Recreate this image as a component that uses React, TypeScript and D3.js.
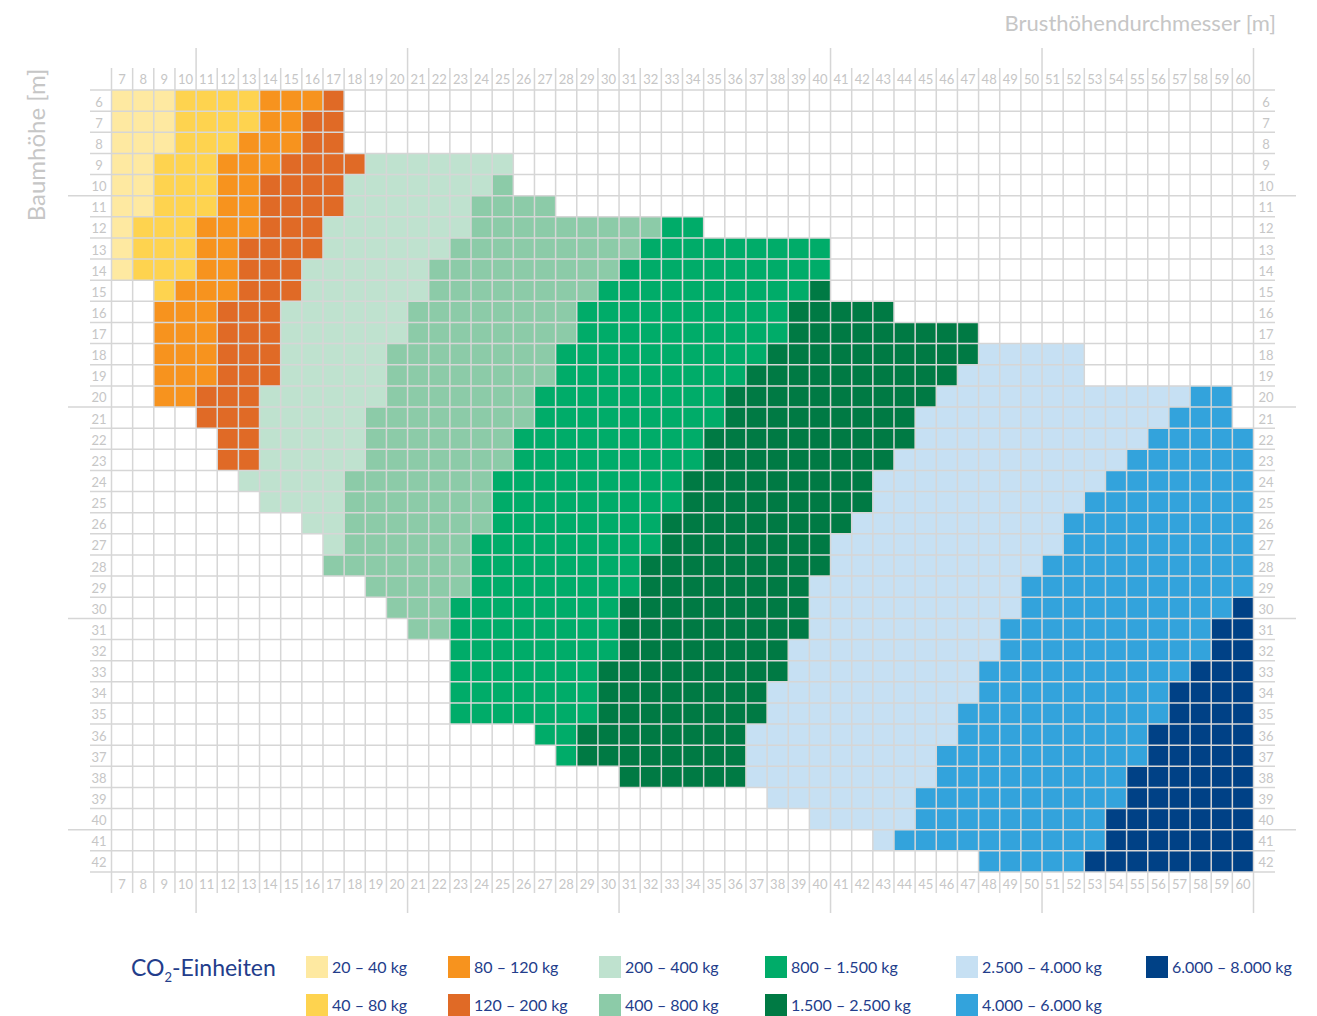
import React from "react";
import * as d3 from "d3";

// ---- data ----
const colNumbers = d3.range(7, 61); // Brusthöhendurchmesser labels
const rowNumbers = d3.range(6, 43); // Baumhöhe labels

const classLabels = [
  "20 – 40 kg", "40 – 80 kg", "80 – 120 kg", "120 – 200 kg", "200 – 400 kg", "400 – 800 kg",
  "800 – 1.500 kg", "1.500 – 2.500 kg", "2.500 – 4.000 kg", "4.000 – 6.000 kg", "6.000 – 8.000 kg",
];
const classColors = [
  "#fee9a1", "#fed34f", "#f7931e", "#e06a26", "#bfe2cf", "#8ccba8",
  "#00ac69", "#007a44", "#c6e0f3", "#33a3dc", "#004186",
];

// [row, fromCol, toCol] per CO2 class
const seg20_40 = [[6,7,9],[7,7,9],[8,7,9],[9,7,8],[10,7,8],[11,7,8],[12,7,7],[13,7,7],[14,7,7]];
const seg40_80 = [[6,10,13],[7,10,13],[8,10,12],[9,9,11],[10,9,11],[11,9,11],[12,8,10],[13,8,10],[14,8,10],[15,9,9]];
const seg80_120 = [[6,14,16],[7,14,15],[8,13,15],[9,12,14],[10,12,13],[11,12,13],[12,11,13],[13,11,12],[14,11,12],[15,10,12],[16,9,11],[17,9,11],[18,9,11],[19,9,11],[20,9,10]];
const seg120_200 = [[6,17,17],[7,16,17],[8,16,17],[9,15,18],[10,14,17],[11,14,17],[12,14,16],[13,13,16],[14,13,15],[15,13,15],[16,12,14],[17,12,14],[18,12,14],[19,12,14],[20,11,13],[21,11,13],[22,12,13],[23,12,13]];
const seg200_400 = [[9,19,25],[10,18,24],[11,18,23],[12,17,23],[13,17,22],[14,16,21],[15,16,21],[16,15,20],[17,15,20],[18,15,19],[19,15,19],[20,14,19],[21,14,18],[22,14,18],[23,14,18],[24,13,17],[25,14,17],[26,16,17],[27,17,17]];
const seg400_800 = [[10,25,25],[11,24,27],[12,24,32],[13,23,31],[14,22,30],[15,22,29],[16,21,28],[17,21,28],[18,20,27],[19,20,27],[20,20,26],[21,19,26],[22,19,25],[23,19,25],[24,18,24],[25,18,24],[26,18,24],[27,18,23],[28,17,23],[29,19,23],[30,20,22],[31,21,22]];
const seg800_1500 = [[12,33,34],[13,32,40],[14,31,40],[15,30,39],[16,29,38],[17,29,38],[18,28,37],[19,28,36],[20,27,35],[21,27,35],[22,26,34],[23,26,34],[24,25,33],[25,25,33],[26,25,32],[27,24,32],[28,24,31],[29,24,31],[30,23,30],[31,23,30],[32,23,30],[33,23,29],[34,23,29],[35,23,29],[36,27,28],[37,28,28]];
const seg1500_2500 = [[15,40,40],[16,39,43],[17,39,47],[18,38,47],[19,37,46],[20,36,45],[21,36,44],[22,35,44],[23,35,43],[24,34,42],[25,34,42],[26,33,41],[27,33,40],[28,32,40],[29,32,39],[30,31,39],[31,31,39],[32,31,38],[33,30,38],[34,30,37],[35,30,37],[36,29,36],[37,29,36],[38,31,36]];
const seg2500_4000 = [[18,48,52],[19,47,52],[20,46,57],[21,45,56],[22,45,55],[23,44,54],[24,43,53],[25,43,52],[26,42,51],[27,41,51],[28,41,50],[29,40,49],[30,40,49],[31,40,48],[32,39,48],[33,39,47],[34,38,47],[35,38,46],[36,37,46],[37,37,45],[38,37,45],[39,38,44],[40,40,44],[41,43,43]];
const seg4000_6000 = [[20,58,59],[21,57,59],[22,56,60],[23,55,60],[24,54,60],[25,53,60],[26,52,60],[27,52,60],[28,51,60],[29,50,60],[30,50,59],[31,49,58],[32,49,58],[33,48,57],[34,48,56],[35,47,56],[36,47,55],[37,46,55],[38,46,54],[39,45,54],[40,45,53],[41,44,53],[42,48,52]];
const seg6000_8000 = [[30,60,60],[31,59,60],[32,59,60],[33,58,60],[34,57,60],[35,57,60],[36,56,60],[37,56,60],[38,55,60],[39,55,60],[40,54,60],[41,54,60],[42,53,60]];

const classSegments = [seg20_40, seg40_80, seg80_120, seg120_200, seg200_400, seg400_800,
  seg800_1500, seg1500_2500, seg2500_4000, seg4000_6000, seg6000_8000];

// ---- layout ----
const W = 1317, H = 1016;
const X0 = 111.5, X1 = 1253.5, Y0 = 90, Y1 = 872;
const gridColor = "#d6d6d6";
const labelColor = "#c6c6c6";
const navy = "#233d8b";
const font = "Lato, 'Open Sans', 'Noto Sans', sans-serif";
const legendColX = [306, 448, 599, 765, 956, 1146];
const legendRowY = [956, 994];

export default function App() {
  const x = d3.scaleLinear().domain([7, 61]).range([X0, X1]);
  const y = d3.scaleLinear().domain([6, 43]).range([Y0, Y1]);
  const cw = x(8) - x(7);
  const ch = y(7) - y(6);

  const cells: any[] = [];
  classSegments.forEach((segs, ci) => {
    segs.forEach(([r, a, b]) => {
      d3.range(a, b + 1).forEach((c) => {
        cells.push(
          <rect key={`${ci}-${r}-${c}`} x={x(c)} y={y(r)} width={cw} height={ch} fill={classColors[ci]} />
        );
      });
    });
  });

  const vBounds = d3.range(7, 62);
  const hBounds = d3.range(6, 44);

  return (
    <svg width={W} height={H} style={{ position: "absolute", left: 0, top: 0, background: "#fff" }}>
      <g>{cells}</g>
      <g stroke={gridColor} strokeWidth={1.5}>
        {vBounds.map((c) => {
          const long = (c - 1) % 10 === 0;
          return <line key={"v" + c} x1={x(c)} x2={x(c)} y1={long ? 48 : 68} y2={long ? 913 : 893} />;
        })}
        {hBounds.map((r) => {
          const long = (r - 1) % 10 === 0;
          return <line key={"h" + r} x1={long ? 68 : 90} x2={long ? 1296 : 1275} y1={y(r)} y2={y(r)} />;
        })}
      </g>
      <g fill={labelColor} fontFamily={font} fontSize={13} textAnchor="middle">
        {colNumbers.map((c) => (
          <React.Fragment key={"c" + c}>
            <text x={x(c) + cw / 2} y={79} dominantBaseline="central">{c}</text>
            <text x={x(c) + cw / 2} y={884} dominantBaseline="central">{c}</text>
          </React.Fragment>
        ))}
        {rowNumbers.map((r) => (
          <React.Fragment key={"r" + r}>
            <text x={99} y={y(r) + ch / 2 + 1} dominantBaseline="central">{r}</text>
            <text x={1266} y={y(r) + ch / 2 + 1} dominantBaseline="central">{r}</text>
          </React.Fragment>
        ))}
      </g>
      <text x={1276} y={31} textAnchor="end" fill={labelColor} fontFamily={font} fontSize={22}>
        Brusthöhendurchmesser [m]
      </text>
      <text transform="translate(45,145) rotate(-90)" textAnchor="middle" fill={labelColor} fontFamily={font} fontSize={24}>
        Baumhöhe [m]
      </text>
      <text x={131} y={976} fill={navy} fontFamily={font} fontSize={23}>
        CO<tspan fontSize={13} dy={6}>2</tspan><tspan dy={-6}>-Einheiten</tspan>
      </text>
      <g fontFamily={font} fontSize={16} fill={navy}>
        {classLabels.map((lab, i) => {
          const col = Math.floor(i / 2);
          const row = i % 2;
          return (
            <g key={"lg" + i} transform={`translate(${legendColX[col]},${legendRowY[row]})`}>
              <rect width={22} height={22} fill={classColors[i]} />
              <text x={26} y={17}>{lab}</text>
            </g>
          );
        })}
      </g>
    </svg>
  );
}
